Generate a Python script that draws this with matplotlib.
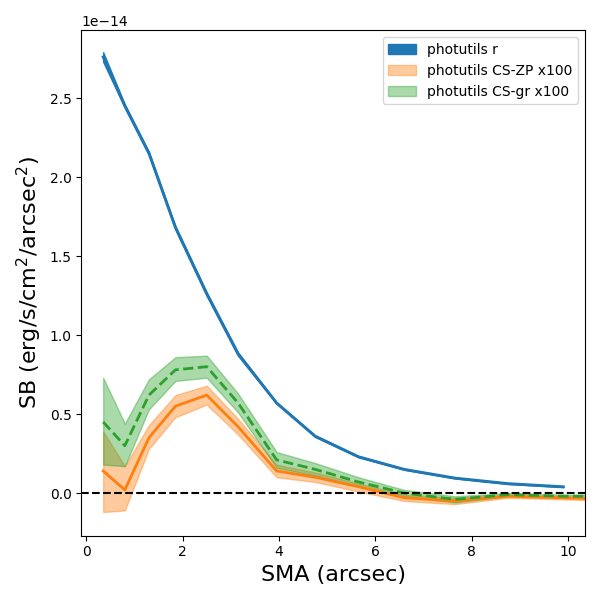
import numpy as np
import matplotlib.pyplot as plt

sma = np.array([0.35, 0.8, 1.3, 1.85, 2.5, 3.15, 3.95, 4.75, 5.65, 6.6, 7.65, 8.75, 9.9, 11.0])
sb_r = np.array([2.76, 2.45, 2.15, 1.68, 1.26, 0.88, 0.57, 0.36, 0.23, 0.15, 0.095, 0.06, 0.04]) * 1e-14
sb_r_err = np.array([0.03, 0.01, 0.01, 0.01, 0.01, 0.01, 0.005, 0.005, 0.004, 0.003, 0.003, 0.003, 0.003]) * 1e-14
sb_zp = np.array([0.14, 0.02, 0.35, 0.55, 0.62, 0.42, 0.14, 0.10, 0.04, -0.03, -0.05, -0.02, -0.03, -0.04]) * 1e-14
zp_lo = np.array([-0.12, -0.11, 0.28, 0.48, 0.56, 0.37, 0.10, 0.07, 0.01, -0.05, -0.07, -0.03, -0.04, -0.05]) * 1e-14
zp_hi = np.array([0.39, 0.17, 0.43, 0.62, 0.68, 0.47, 0.18, 0.13, 0.06, -0.01, -0.03, -0.01, -0.02, -0.03]) * 1e-14
sb_gr = np.array([0.45, 0.30, 0.62, 0.78, 0.80, 0.57, 0.21, 0.15, 0.07, 0.0, -0.04, -0.01, -0.02, -0.02]) * 1e-14
gr_lo = np.array([0.18, 0.17, 0.53, 0.71, 0.73, 0.51, 0.16, 0.11, 0.04, -0.02, -0.06, -0.02, -0.03, -0.03]) * 1e-14
gr_hi = np.array([0.73, 0.44, 0.72, 0.86, 0.87, 0.63, 0.26, 0.19, 0.10, 0.02, -0.02, 0.00, -0.01, -0.01]) * 1e-14

fig, ax = plt.subplots(figsize=(6, 6), dpi=100)
n = len(sb_r)
ax.fill_between(sma[:n], sb_r - sb_r_err, sb_r + sb_r_err, color='C0', label='photutils r')
ax.plot(sma[:n], sb_r, color='C0', lw=2)
ax.fill_between(sma, zp_lo, zp_hi, color='C1', alpha=0.4, label='photutils CS-ZP x100')
ax.plot(sma, sb_zp, color='C1', lw=2)
ax.fill_between(sma, gr_lo, gr_hi, color='C2', alpha=0.4, label='photutils CS-gr x100')
ax.plot(sma, sb_gr, color='C2', lw=2, ls='--')
ax.axhline(0, color='k', ls='--')
ax.set_xlim(-0.1, 10.35)
ax.set_ylim(-0.27e-14, 2.93e-14)
ax.set_xlabel('SMA (arcsec)', fontsize=16)
ax.set_ylabel('SB (erg/s/cm$^2$/arcsec$^2$)', fontsize=16)
ax.legend(loc='upper right')
plt.tight_layout()
plt.savefig('out.png')
